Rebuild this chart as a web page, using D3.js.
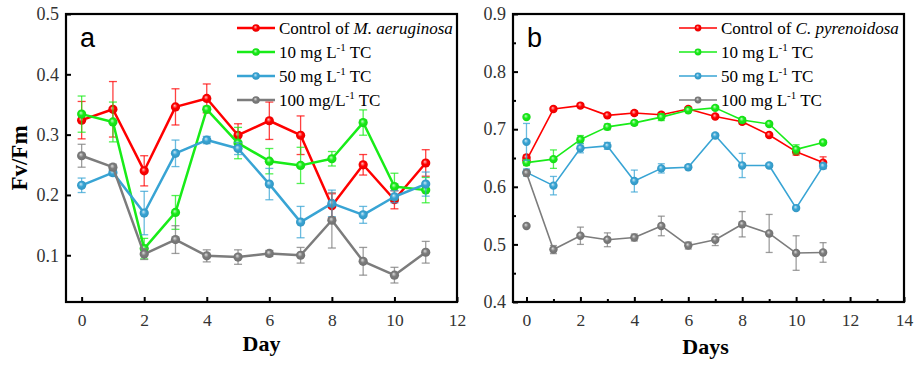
<!DOCTYPE html>
<html>
<head>
<meta charset="utf-8">
<script src="https://cdn.jsdelivr.net/npm/d3@7"></script>
<style>
  html, body { margin: 0; padding: 0; background: #fff; }
  svg { display: block; }
</style>
</head>
<body>
<svg id="chart" width="917" height="367"></svg>
<script>
// ---------- DATA ----------
const daysA = [0,1,2,3,4,5,6,7,8,9,10,11];
const ctrlA   = [0.324,0.342,0.240,0.346,0.360,0.299,0.323,0.299,0.182,0.250,0.192,0.253];
const ctrlAErr= [0.031,0.046,0.025,0.030,0.024,0.019,0.031,0.032,0.020,0.017,0.015,0.022];
const tc10A   = [0.334,0.321,0.111,0.171,0.342,0.286,0.256,0.249,0.260,0.320,0.214,0.208];
const tc10AErr= [0.030,0.033,0.017,0.028,0.005,0.026,0.021,0.030,0.012,0.021,0.022,0.021];
const tc50A   = [0.216,0.237,0.170,0.269,0.291,0.277,0.218,0.155,0.186,0.167,0.197,0.218];
const tc50AErr= [0.012,0.005,0.036,0.022,0.006,0.010,0.026,0.026,0.022,0.014,0.010,0.020];
const tc100A  = [0.265,0.246,0.102,0.126,0.099,0.097,0.103,0.100,0.158,0.090,0.067,0.105];
const tc100AErr=[0.019,0.005,0.009,0.023,0.010,0.012,0.005,0.013,0.046,0.023,0.013,0.018];

const daysB = [0,1,2,3,4,5,6,7,8,9,10,11];
const ctrlB   = [0.646,0.735,0.741,0.724,0.728,0.725,0.735,0.722,0.713,0.690,0.661,0.642];
const ctrlBErr= [0.005,0.003,0.003,0.003,0.004,0.004,0.003,0.003,0.004,0.003,0.006,0.010];
const tc10B   = [0.642,0.648,0.682,0.704,0.711,0.721,0.733,0.737,0.716,0.709,0.665,0.677];
const tc10BErr= [0.005,0.016,0.007,0.005,0.004,0.006,0.003,0.003,0.004,0.003,0.008,0.003];
const tc50B   = [0.625,0.602,0.667,0.671,0.610,0.632,0.634,0.689,0.637,0.637,0.563,0.636];
const tc50BErr= [0.006,0.016,0.008,0.006,0.019,0.008,0.003,0.003,0.021,0.003,0.003,0.005];
const tc100B  = [0.624,0.491,0.515,0.508,0.512,0.532,0.498,0.508,0.535,0.519,0.485,0.486];
const tc100BErr=[0.005,0.007,0.015,0.012,0.006,0.017,0.006,0.010,0.022,0.033,0.030,0.017];
// separate (unconnected) day-0 points in panel b: control, 10, 50, 100
const day0ExtraB    = [0.651,0.721,0.678,0.532];
const day0ExtraBErr = [0.004,0.000,0.032,0.000];

const ticksXA = [0,2,4,6,8,10,12];
const ticksYA = [0.1,0.2,0.3,0.4,0.5];
const ticksXB = [0,2,4,6,8,10,12,14];
const ticksYB = [0.4,0.5,0.6,0.7,0.8,0.9];

const colors = ["#ff0000","#18ec18","#38a4d4","#7c7c7c"];
const legendA = [
  [{t:"Control of "},{t:"M. aeruginosa",i:true}],
  [{t:"10 mg L"},{t:"-1",sup:true},{t:" TC"}],
  [{t:"50 mg L"},{t:"-1",sup:true},{t:" TC"}],
  [{t:"100 mg/L"},{t:"-1",sup:true},{t:" TC"}]
];
const legendB = [
  [{t:"Control of "},{t:"C. pyrenoidosa",i:true}],
  [{t:"10 mg L"},{t:"-1",sup:true},{t:" TC"}],
  [{t:"50 mg L"},{t:"-1",sup:true},{t:" TC"}],
  [{t:"100 mg L"},{t:"-1",sup:true},{t:" TC"}]
];

const SERIF = "'Liberation Serif', 'Times New Roman', Times, serif";
const SANS = "'Liberation Sans', Arial, sans-serif";

// ---------- DRAW ----------
const svg = d3.select("#chart");
const defs = svg.append("defs");
colors.forEach((c,i) => {
  const g = defs.append("radialGradient").attr("id","ball"+i)
    .attr("cx","50%").attr("cy","50%").attr("r","55%").attr("fx","40%").attr("fy","35%");
  g.append("stop").attr("offset","0%").attr("stop-color", d3.interpolateRgb(c,"#fff")(0.75));
  g.append("stop").attr("offset","45%").attr("stop-color", c);
  g.append("stop").attr("offset","100%").attr("stop-color", d3.color(c).darker(0.3));
});

function panel(cfg) {
  const x = d3.scaleLinear().domain(cfg.xDom).range(cfg.xRange);
  const y = d3.scaleLinear().domain(cfg.yDom).range(cfg.yRange);
  const g = svg.append("g");
  const [x0,x1] = cfg.xRange;
  const [yb,yt] = cfg.yRange;   // bottom, top

  // series
  cfg.series.forEach((s,i) => {
    const col = colors[i];
    const pts = cfg.days.map((d,k)=>({d, v:s.v[k], e:s.e[k]}));
    const sg = g.append("g");
    const eb = sg.selectAll(".eb").data(pts.filter(p=>p.e>0)).enter().append("g")
      .attr("stroke", col).attr("stroke-opacity",0.75).attr("stroke-width",1.3).attr("fill","none");
    eb.append("line").attr("x1",p=>x(p.d)).attr("x2",p=>x(p.d)).attr("y1",p=>y(p.v-p.e)).attr("y2",p=>y(p.v+p.e));
    eb.append("line").attr("x1",p=>x(p.d)-cfg.cap).attr("x2",p=>x(p.d)+cfg.cap).attr("y1",p=>y(p.v-p.e)).attr("y2",p=>y(p.v-p.e));
    eb.append("line").attr("x1",p=>x(p.d)-cfg.cap).attr("x2",p=>x(p.d)+cfg.cap).attr("y1",p=>y(p.v+p.e)).attr("y2",p=>y(p.v+p.e));
    sg.append("path").datum(pts)
      .attr("d", d3.line().x(p=>x(p.d)).y(p=>y(p.v)))
      .attr("fill","none").attr("stroke",col).attr("stroke-width",cfg.lw).attr("stroke-linejoin","round");
    sg.selectAll(".pt").data(pts).enter().append("circle")
      .attr("cx",p=>x(p.d)).attr("cy",p=>y(p.v)).attr("r",cfg.r).attr("fill","url(#ball"+i+")");
    if (cfg.extra) {
      const p = {d:0, v:cfg.extra[i], e:cfg.extraErr[i]};
      if (p.e>0) {
        const e2 = sg.append("g").attr("stroke",col).attr("stroke-opacity",0.75).attr("stroke-width",1.3);
        e2.append("line").attr("x1",x(0)).attr("x2",x(0)).attr("y1",y(p.v-p.e)).attr("y2",y(p.v+p.e));
        e2.append("line").attr("x1",x(0)-cfg.cap).attr("x2",x(0)+cfg.cap).attr("y1",y(p.v+p.e)).attr("y2",y(p.v+p.e));
        e2.append("line").attr("x1",x(0)-cfg.cap).attr("x2",x(0)+cfg.cap).attr("y1",y(p.v-p.e)).attr("y2",y(p.v-p.e));
      }
      sg.append("circle").attr("cx",x(0)).attr("cy",y(p.v)).attr("r",cfg.r).attr("fill","url(#ball"+i+")");
    }
  });

  // axes (ticks inward)
  const ax = g.append("g").attr("transform",`translate(0,${yb})`)
    .call(d3.axisBottom(x).tickValues(cfg.ticksX).tickSize(-5).tickPadding(12).tickFormat(d3.format("d")));
  const ay = g.append("g").attr("transform",`translate(${x0},0)`)
    .call(d3.axisLeft(y).tickValues(cfg.ticksY).tickSize(-5).tickPadding(7).tickFormat(d3.format(".1f")));
  [ax,ay].forEach(a => {
    a.attr("font-family", null);
    a.select(".domain").remove();
    a.selectAll(".tick line").attr("stroke","#000").attr("stroke-width",2);
    a.selectAll(".tick text").attr("fill","#333").style("font-family",SERIF).style("font-size","18px");
  });
  ax.selectAll(".tick text").style("font-size","17.5px");
  if (cfg.minorX) {
    g.append("g").attr("transform",`translate(0,${yb})`)
      .call(d3.axisBottom(x).tickValues(cfg.minorX).tickSize(-3).tickFormat(""))
      .call(a=>{a.select(".domain").remove(); a.selectAll("line").attr("stroke","#000").attr("stroke-width",2);});
  }
  if (cfg.minorY) {
    g.append("g").attr("transform",`translate(${x0},0)`)
      .call(d3.axisLeft(y).tickValues(cfg.minorY).tickSize(-3).tickFormat(""))
      .call(a=>{a.select(".domain").remove(); a.selectAll("line").attr("stroke","#000").attr("stroke-width",2);});
  }
  // frame
  g.append("rect").attr("x",x0).attr("y",yt).attr("width",x1-x0).attr("height",yb-yt)
    .attr("fill","none").attr("stroke","#000").attr("stroke-width",2.2);

  // panel letter
  g.append("text").attr("x",x0+14).attr("y",yt+33).text(cfg.letter)
    .style("font-family",SANS).style("font-size","27px").attr("fill","#000");

  // legend
  cfg.legend.forEach((parts,i) => {
    const ly = yt + 14 + i*24;
    g.append("line").attr("x1",cfg.legX).attr("x2",cfg.legX+38).attr("y1",ly).attr("y2",ly)
      .attr("stroke",colors[i]).attr("stroke-width",cfg.lw);
    g.append("circle").attr("cx",cfg.legX+19).attr("cy",ly).attr("r",cfg.r-0.8).attr("fill","url(#ball"+i+")");
    const t = g.append("text").attr("x",cfg.legX+42).attr("y",ly+6)
      .style("font-family",SERIF).style("font-size","17px").attr("fill","#000");
    let afterSup = false;
    parts.forEach(p => {
      const ts = t.append("tspan").text(p.t);
      if (p.i) ts.style("font-style","italic");
      if (p.sup) { ts.style("font-size","11px").attr("dy",-7); afterSup = true; }
      else if (afterSup) { ts.attr("dy",7); afterSup = false; }
    });
  });

  // axis title
  g.append("text").attr("x",(x0+x1)/2 - cfg.titleShift).attr("y",cfg.titleY).attr("text-anchor","middle")
    .style("font-family",SERIF).style("font-weight","bold").style("font-size","22px").attr("fill","#000").text(cfg.xTitle);
}

panel({
  xDom:[-0.5,12], xRange:[66,457], yDom:[0.0225,0.5], yRange:[302,14],
  days:daysA, ticksX:ticksXA, ticksY:ticksYA,
  series:[{v:ctrlA,e:ctrlAErr},{v:tc10A,e:tc10AErr},{v:tc50A,e:tc50AErr},{v:tc100A,e:tc100AErr}],
  lw:2.5, r:4.6, cap:4, letter:"a", legend:legendA, legX:237, xTitle:"Day", titleShift:0, titleY:351
});
panel({
  xDom:[-0.5,14], xRange:[513,904], yDom:[0.4,0.9], yRange:[302,14],
  days:daysB, ticksX:ticksXB, ticksY:ticksYB,
  minorX:[1,3,5,7,9,11,13], minorY:[0.45,0.55,0.65,0.75,0.85],
  series:[{v:ctrlB,e:ctrlBErr},{v:tc10B,e:tc10BErr},{v:tc50B,e:tc50BErr},{v:tc100B,e:tc100BErr}],
  extra:day0ExtraB, extraErr:day0ExtraBErr,
  lw:1.6, r:4.2, cap:3.5, letter:"b", legend:legendB, legX:679, xTitle:"Days", titleShift:3, titleY:354
});

// y-axis title (panel a)
svg.append("text").attr("transform","translate(27,158) rotate(-90)").attr("text-anchor","middle")
  .style("font-family",SERIF).style("font-weight","bold").style("font-size","23px").attr("fill","#000").text("Fv/Fm");
</script>
</body>
</html>
